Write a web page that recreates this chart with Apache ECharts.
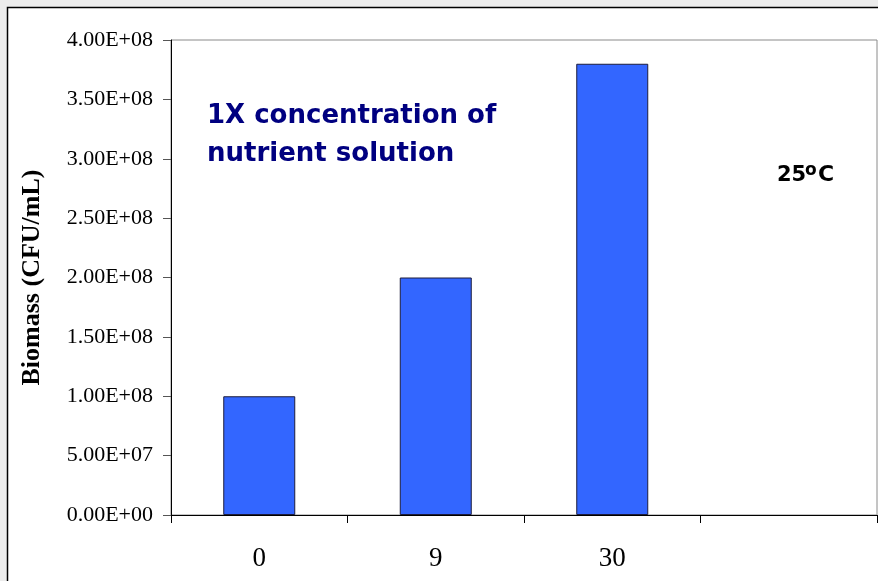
<!DOCTYPE html>
<html>
<head>
<meta charset="utf-8">
<script src="https://cdn.jsdelivr.net/npm/echarts@6/dist/echarts.min.js"></script>
<style>html,body{margin:0;padding:0;background:#ececec;}#chart{width:878px;height:581px;}</style>
</head>
<body>
<div id="chart"></div>
<script>
var categories = ['0', '9', '30', ''];
var biomass = [1.0e8, 2.0e8, 3.8e8, null];
var yMin = 0, yMax = 4.0e8, yInterval = 5.0e7;
var yTitle = 'Biomass (CFU/mL)';
var noteLine1 = '1X concentration of';
var noteLine2 = 'nutrient solution';

function sci(v) {
  var s = Number(v).toExponential(2).toUpperCase();
  var parts = s.split('E');
  var sign = parts[1].charAt(0);
  var exp = parts[1].slice(1);
  if (exp.length < 2) exp = '0' + exp;
  return parts[0] + 'E' + sign + exp;
}

var chart = echarts.init(document.getElementById('chart'));
chart.setOption({
  backgroundColor: '#ececec',
  animation: false,
  grid: { left: 171, right: 1, top: 40, bottom: 66, show: true, borderColor: '#8a8a8a', borderWidth: 1, backgroundColor: 'transparent' },
  xAxis: {
    type: 'category',
    data: categories,
    boundaryGap: true,
    axisLine: { lineStyle: { color: '#000', width: 1 } },
    axisTick: { show: true, length: 8, lineStyle: { color: '#000' } },
    axisLabel: { fontFamily: 'Liberation Serif', fontSize: 27, color: '#000', margin: 30 },
    splitLine: { show: false }
  },
  yAxis: {
    type: 'value',
    min: yMin, max: yMax, interval: yInterval,
    name: yTitle,
    nameLocation: 'middle',
    nameGap: 126,
    nameTextStyle: { fontFamily: 'Liberation Serif', fontWeight: 'bold', fontSize: 26, color: '#000' },
    axisLine: { show: true, lineStyle: { color: '#000', width: 1 } },
    axisTick: { show: true, length: 8, lineStyle: { color: '#555' } },
    axisLabel: { fontFamily: 'Liberation Serif', fontSize: 22, color: '#000', margin: 18, formatter: sci },
    splitLine: { show: false }
  },
  series: [{
    type: 'bar',
    data: biomass,
    barWidth: 72,
    itemStyle: { color: '#3366FF', borderColor: '#1c1c3c', borderWidth: 1 }
  }],
  graphic: [
    { type: 'rect', z: -10, shape: { x: 7.5, y: 7.5, width: 900, height: 600 }, style: { fill: '#fff', stroke: '#000', lineWidth: 1.5 } },
    { type: 'text', z: 10, style: { x: 207, y: 116.4, text: noteLine1, fill: '#000080', font: 'bold 26px "DejaVu Sans"', textAlign: 'left', textVerticalAlign: 'middle' } },
    { type: 'text', z: 10, style: { x: 207, y: 154.2, text: noteLine2, fill: '#000080', font: 'bold 26px "DejaVu Sans"', textAlign: 'left', textVerticalAlign: 'middle' } },
    { type: 'text', z: 10, style: { x: 777, y: 175.5, text: '25', fill: '#000', font: 'bold 21px "DejaVu Sans"', textAlign: 'left', textVerticalAlign: 'middle' } },
    { type: 'text', z: 10, style: { x: 805, y: 171, text: 'o', fill: '#000', font: 'bold 17px "DejaVu Sans"', textAlign: 'left', textVerticalAlign: 'middle' } },
    { type: 'text', z: 10, style: { x: 818, y: 175.5, text: 'C', fill: '#000', font: 'bold 22px "DejaVu Sans"', textAlign: 'left', textVerticalAlign: 'middle' } }
  ]
});
</script>
</body>
</html>
